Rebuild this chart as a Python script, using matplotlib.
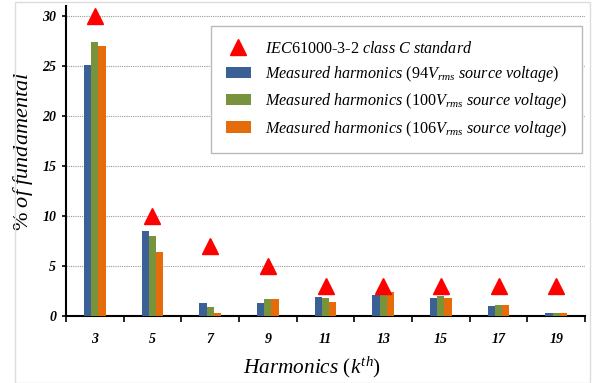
import numpy as np
import matplotlib
matplotlib.use('Agg')
import matplotlib.pyplot as plt
from matplotlib.patches import Rectangle

plt.rcParams['font.family'] = 'Liberation Serif'
plt.rcParams['mathtext.fontset'] = 'custom'
plt.rcParams['mathtext.rm'] = 'Liberation Serif'
plt.rcParams['mathtext.it'] = 'Liberation Serif:italic'

harmonics = ['3', '5', '7', '9', '11', '13', '15', '17', '19']
iec_limit = [30, 10, 7, 5, 3, 3, 3, 3, 3]
v94 = [25.1, 8.5, 1.25, 1.3, 1.9, 2.1, 1.8, 1.0, 0.27]
v100 = [27.4, 8.05, 0.85, 1.7, 1.75, 2.3, 1.95, 1.1, 0.27]
v106 = [27.0, 6.4, 0.3, 1.7, 1.4, 2.35, 1.8, 1.1, 0.27]

COLORS = ['#3A6095', '#77933C', '#E46C0A']

fig = plt.figure(figsize=(5.94, 3.83), dpi=100)
ax = fig.add_axes([0.111, 0.175, 0.874, 0.809])

x = np.arange(len(harmonics))
w = 0.125
b1 = ax.bar(x - w, v94, w, color=COLORS[0], zorder=3)
b2 = ax.bar(x, v100, w, color=COLORS[1], zorder=3)
b3 = ax.bar(x + w, v106, w, color=COLORS[2], zorder=3)
tri, = ax.plot(x, iec_limit, linestyle='none', marker='^', markersize=11,
               color='#FF0000', zorder=4)

ax.set_xlim(-0.5, len(harmonics) - 0.5)
ax.set_ylim(0, 31)
ax.set_yticks([0, 5, 10, 15, 20, 25, 30])
ax.set_xticks(x)
ax.set_xticklabels(harmonics)
ax.set_xticks(np.arange(len(harmonics) + 1) - 0.5, minor=True)
ax.tick_params(axis='x', which='major', length=0, pad=12)
ax.tick_params(axis='x', which='minor', length=4, width=1.2, direction='out')
ax.tick_params(axis='y', length=3, width=1.2, pad=4)
for lab in ax.get_xticklabels() + ax.get_yticklabels():
    lab.set_fontstyle('italic')
    lab.set_fontweight('bold')
    lab.set_fontsize(10)

for yv in [5, 10, 15, 20, 25, 30]:
    ax.axhline(yv, color='#999999', linestyle=(0, (1, 1)), linewidth=0.8, zorder=1)

ax.spines['top'].set_visible(False)
ax.spines['right'].set_visible(False)
ax.spines['left'].set_linewidth(1.5)
ax.spines['bottom'].set_linewidth(1.5)

ax.set_ylabel('$\\it{\\%\\ of\\ fundamental}$', fontsize=16)
ax.yaxis.set_label_coords(-0.06, 0.53)
ax.set_xlabel('$\\it{Harmonics}$ ($k^{th}$)', fontsize=15.3)
ax.xaxis.set_label_coords(0.475, -0.125)

labels = ['$\\it{IEC}$61000-3-2 $\\it{class\\ C\\ standard}$',
          '$\\it{Measured\\ harmonics}$ (94$V_{\\it{rms}}$ $\\it{source\\ voltage}$)',
          '$\\it{Measured\\ harmonics}$ (100$V_{\\it{rms}}$ $\\it{source\\ voltage}$)',
          '$\\it{Measured\\ harmonics}$ (106$V_{\\it{rms}}$ $\\it{source\\ voltage}$)']
leg = ax.legend([tri, b1, b2, b3], labels,
                loc='upper right', bbox_to_anchor=(0.994, 0.935), fontsize=11.6,
                fancybox=False, edgecolor='#BBBBBB', framealpha=1,
                borderpad=0.9, labelspacing=0.45, handlelength=1.6, handletextpad=0.85,
                borderaxespad=0)
leg.get_frame().set_linewidth(1.0)

fig.patches.append(Rectangle((15 / 594, 0), 575 / 594, 381 / 383, transform=fig.transFigure,
                             fill=False, edgecolor='#DDDDDD', linewidth=1.0))

fig.savefig('out.png', dpi=100)
